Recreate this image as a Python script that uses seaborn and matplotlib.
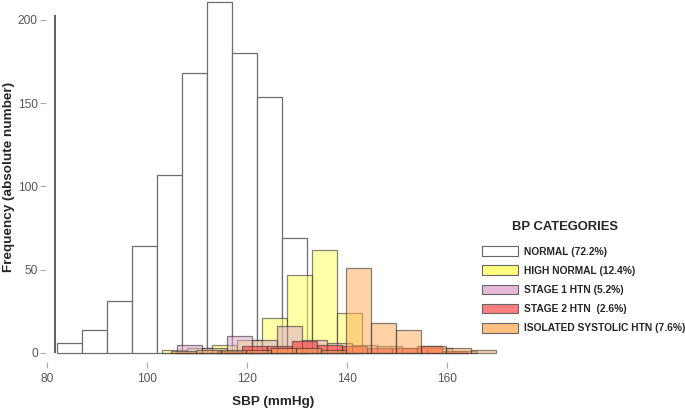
import numpy as np
import pandas as pd
import matplotlib
matplotlib.use("Agg")
import matplotlib.pyplot as plt
import seaborn as sns
from matplotlib.patches import Patch

# bins are 5 mmHg wide; first left edge and counts per category
normal_start = 82
normal_counts = [6, 14, 31, 64, 107, 168, 211, 180, 154, 69]

high_start = 103
high_counts = [2, 3, 5, 8, 21, 47, 62, 24]

stage1_start = 106
stage1_counts = [5, 3, 10, 8, 16, 8, 6, 5, 4, 3, 3, 1]

stage2_start = 114
stage2_counts = [1, 4, 4, 7, 5, 4, 3, 3, 4, 1]

ish_start = 104.8
ish_counts = [1, 2, 2, 2, 3, 3, 2, 51, 18, 14, 4, 3, 2]

labels = ["NORMAL (72.2%)", "HIGH NORMAL (12.4%)", "STAGE 1 HTN (5.2%)",
          "STAGE 2 HTN  (2.6%)", "ISOLATED SYSTOLIC HTN (7.6%)"]
bar_colors = ["white", "#FFFF55", "#D9A0C6", "#FF3A3A", "#FFA850"]
bar_alpha = [1, 0.5, 0.5, 0.6, 0.5]
legend_colors = ["white", "#FFFF80", "#E4BAD6", "#FF7F7F", "#FFBF80"]

sns.set_style("white")
plt.rcParams["font.family"] = ["Liberation Sans", "DejaVu Sans"]

fig = plt.figure(figsize=(6.85, 4.08), dpi=100)
ax = fig.add_axes([0.0672, 0.113, 0.6628, 0.887])

series = [
    (normal_start, normal_counts),
    (high_start, high_counts),
    (stage1_start, stage1_counts),
    (stage2_start, stage2_counts),
    (ish_start, ish_counts),
]

for i, (start, counts) in enumerate(series):
    n = len(counts)
    edges = [float(start + 5 * k) for k in range(n + 1)]
    df = pd.DataFrame({"sbp": [e + 2.5 for e in edges[:-1]], "n": counts})
    if i == 0:
        sns.histplot(data=df, x="sbp", weights="n", bins=edges, color="white",
                     edgecolor="#6e6e6e", linewidth=0.9, alpha=1, ax=ax)
    else:
        sns.histplot(data=df, x="sbp", weights="n", bins=edges,
                     color=bar_colors[i], edgecolor=(0.2, 0.2, 0.2, 0.6),
                     linewidth=0.9, alpha=bar_alpha[i], ax=ax)

ax.set_xlim(79.8, 170.6)
ax.set_ylim(-5.4, 212)
for s in ax.spines.values():
    s.set_visible(False)
ax.vlines(81.6, 0, 203, color="#333333", linewidth=1.1)

ax.set_xticks([80, 100, 120, 140, 160])
ax.set_yticks([0, 50, 100, 150, 200])
ax.tick_params(axis="both", direction="out", length=4, width=0.8,
               left=True, bottom=True,
               color="#aaaaaa", labelcolor="#555555", labelsize=8.6)
ax.tick_params(axis="y", pad=2)
ax.tick_params(axis="x", pad=4)

ax.set_xlabel("SBP (mmHg)", fontsize=9.7, fontweight="bold", labelpad=8)
ax.set_ylabel("Frequency (absolute number)", fontsize=9.7, fontweight="bold")
ax.yaxis.set_label_coords(-0.068, 0.51)

handles = [Patch(facecolor=c, edgecolor="#666666", linewidth=0.8)
           for c in legend_colors]
leg = fig.legend(handles, labels, loc="upper left",
                 bbox_to_anchor=(0.7036, 0.396),
                 frameon=False, prop={"size": 7.4, "weight": "bold"},
                 handlelength=3.5, handleheight=1.1, handletextpad=0.6,
                 labelspacing=0.84, borderpad=0, borderaxespad=0)
fig.text(0.825, 0.444, "BP CATEGORIES", ha="center", va="center",
         fontsize=9.4, fontweight="bold")

fig.savefig("out.png", dpi=100)
